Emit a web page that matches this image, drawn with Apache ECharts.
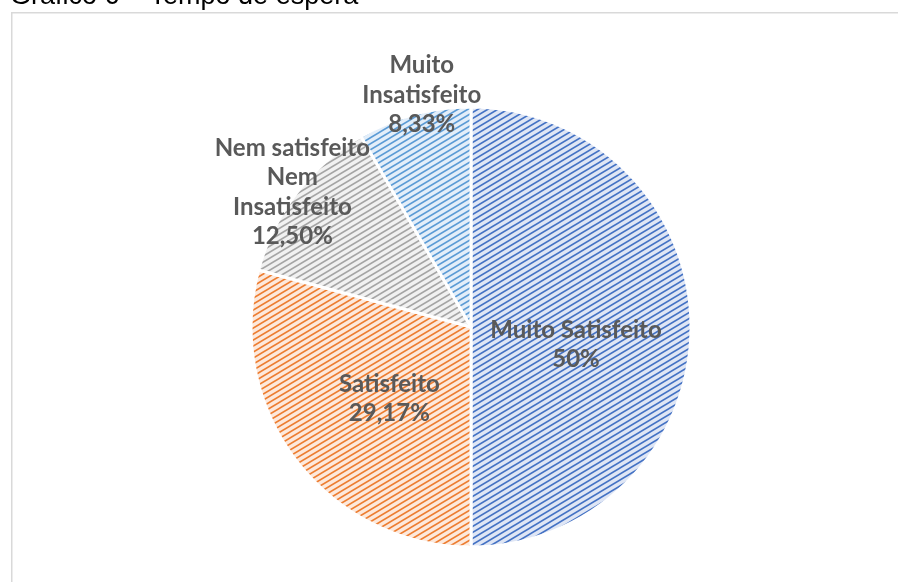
<!DOCTYPE html>
<html>
<head>
<meta charset="utf-8">
<script src="https://cdn.jsdelivr.net/npm/echarts@6/dist/echarts.min.js"></script>
<style>
  html, body { margin: 0; padding: 0; background: #ffffff; }
  #chart { width: 898px; height: 582px; }
</style>
</head>
<body>
<div id="chart"></div>
<script>
// Satisfação com o tempo de espera (percentual de respostas)
const categories = ['Muito Satisfeito', 'Satisfeito', 'Nem satisfeito\nNem\nInsatisfeito', 'Muito\nInsatisfeito'];
const percentValues = [50, 29.17, 12.5, 8.33];
const titleText = 'Gráfico 6 – Tempo de espera';

// Hatched fills: light tint background with upward diagonal stripes
function hatch(bg, fg) {
  const w = 10, h = 6;
  const c = document.createElement('canvas');
  c.width = w; c.height = h;
  const ctx = c.getContext('2d');
  ctx.fillStyle = bg;
  ctx.fillRect(0, 0, w, h);
  ctx.strokeStyle = fg;
  ctx.lineWidth = 1.6;
  for (let k = -1; k <= 1; k++) {
    ctx.beginPath();
    ctx.moveTo(-2, h + (h / w) * 2 + k * h);
    ctx.lineTo(w + 2, -(h / w) * 2 + k * h);
    ctx.stroke();
  }
  return { image: c, repeat: 'repeat' };
}

const fills = [
  hatch('#dfe6f5', '#4472c4'),
  hatch('#fde9dc', '#ed7d31'),
  hatch('#f1f1f1', '#a5a5a5'),
  hatch('#e3eef9', '#5b9bd5')
];

// label nudges (dx, dy) per slice
const labelShift = [[-8, 18], [8, 3], [-89, -66], [-20, -123]];

function fmtPct(v) {
  const s = Number.isInteger(v) ? String(v) : v.toFixed(2).replace('.', ',');
  return s + '%';
}

const chart = echarts.init(document.getElementById('chart'), null, { renderer: 'canvas' });

chart.setOption({
  animation: false,
  backgroundColor: '#ffffff',
  title: {
    text: titleText,
    left: 10,
    top: -17,
    padding: 0,
    textStyle: {
      fontFamily: 'Liberation Sans, Arial, sans-serif',
      fontSize: 27,
      fontWeight: 'normal',
      color: '#000000'
    }
  },
  graphic: [{
    type: 'rect',
    silent: true,
    shape: { x: 11.75, y: 12.75, width: 1000, height: 1000 },
    style: { fill: 'none', stroke: '#d9d9d9', lineWidth: 1.5 }
  }],
  series: [{
    type: 'pie',
    center: [471, 327],
    radius: [0, 220],
    startAngle: 90,
    clockwise: true,
    avoidLabelOverlap: false,
    itemStyle: { borderColor: '#ffffff', borderWidth: 3 },
    label: {
      show: true,
      position: 'inside',
      fontFamily: 'Lato, sans-serif',
      fontWeight: 'bold',
      fontSize: 24,
      lineHeight: 29.5,
      color: '#595959',
      align: 'center',
      formatter: p => p.name + '\n' + fmtPct(p.value)
    },
    labelLine: { show: false },
    labelLayout: p => ({ dx: labelShift[p.dataIndex][0], dy: labelShift[p.dataIndex][1] }),
    emphasis: { disabled: true },
    data: categories.map((name, i) => ({
      name: name,
      value: percentValues[i],
      itemStyle: { color: fills[i] }
    }))
  }]
});
</script>
</body>
</html>
